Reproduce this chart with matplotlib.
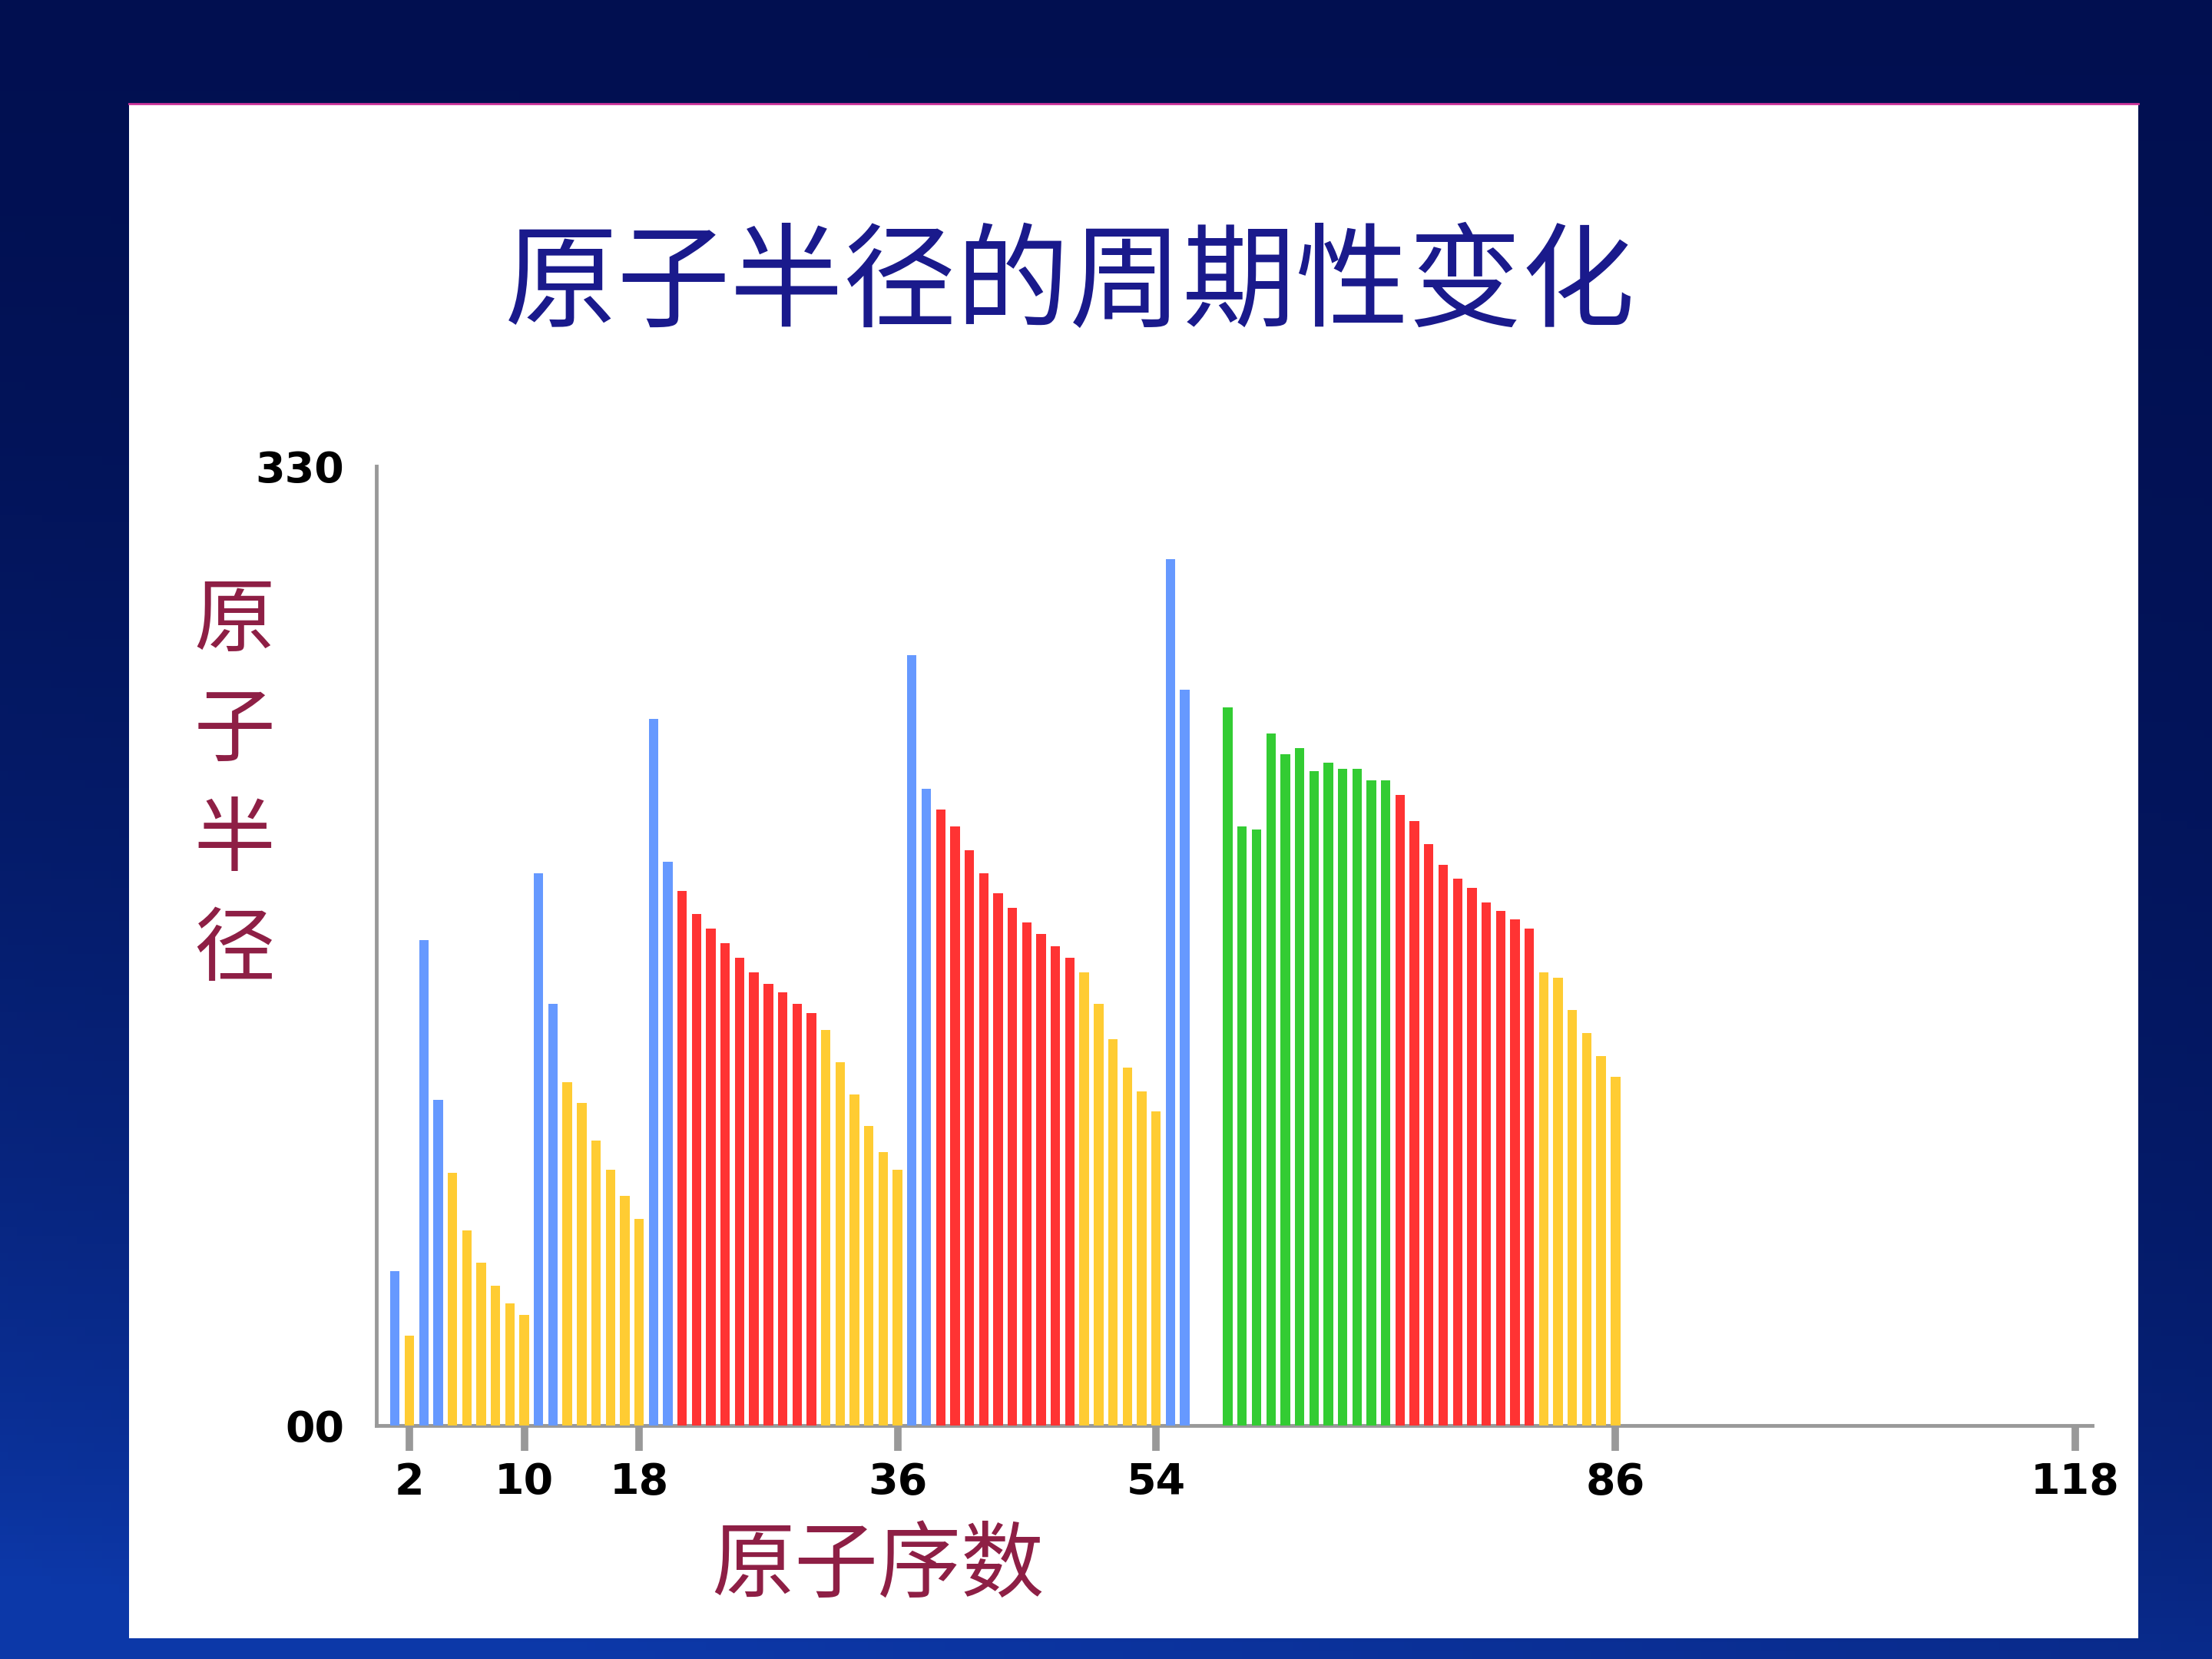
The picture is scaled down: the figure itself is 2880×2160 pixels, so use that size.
# -*- coding: utf-8 -*-
# 原子半径的周期性变化 (bar chart, atomic number 1-86, La/Ce without data)

import numpy as np
import matplotlib
matplotlib.use("Agg")
import matplotlib.pyplot as plt
from matplotlib.patches import Rectangle

plt.rcParams['font.family'] = ['Noto Sans CJK SC', 'DejaVu Sans']

# atomic numbers (57, 58 have no value in the chart)
numbers = [n for n in range(1, 87) if n not in (57, 58)]

# radii
radii = [53, 31,
         167, 112, 87, 67, 56, 48, 42, 38,
         190, 145, 118, 111, 98, 88, 79, 71,
         243, 194, 184, 176, 171, 166, 161, 156, 152, 149, 145, 142,
         136, 125, 114, 103, 94, 88,
         265, 219, 212, 206, 198, 190, 183, 178, 173, 169, 165, 161,
         156, 145, 133, 123, 115, 108,
         298, 253,
         247, 206, 205, 238, 231, 233, 225, 228, 226, 226, 222, 222,
         217, 208, 200, 193, 188, 185, 180, 177, 174, 171,
         156, 154, 143, 135, 127, 120]

# block of each bar
blocks = (['s', 'p'] +
          ['s'] * 2 + ['p'] * 6 +
          ['s'] * 2 + ['p'] * 6 +
          ['s'] * 2 + ['d'] * 10 + ['p'] * 6 +
          ['s'] * 2 + ['d'] * 10 + ['p'] * 6 +
          ['s'] * 2 + ['f'] * 12 + ['d'] * 10 + ['p'] * 6)

x_ticks = [2, 10, 18, 36, 54, 86, 118]
y_ticks = [0, 330]
y_tick_labels = ['00', '330']

title = "原子半径的周期性变化"
ylabel = "原子半径"
xlabel = "原子序数"

block_colors = {'s': '#6699ff', 'p': '#ffcc33', 'd': '#ff3333', 'f': '#33cc33'}

W, H = 2880, 2160
fig = plt.figure(figsize=(W / 100, H / 100), dpi=100)

# background
bg = fig.add_axes([0, 0, 1, 1])
bg.set_zorder(-3)
yy, xx = np.mgrid[0:1:200j, 0:1:260j]
t = np.clip(0.12 + 0.75 * yy ** 1.6 * (1 - 0.55 * xx) + 0.25 * yy ** 6, 0, 1)
dark = np.array([0.0, 0.04, 0.27])
bright = np.array([0.05, 0.22, 0.66])
img = dark[None, None, :] * (1 - t[..., None]) + bright[None, None, :] * t[..., None]
bg.imshow(img, extent=[0, 1, 0, 1], aspect='auto', origin='upper')
bg.set_xlim(0, 1)
bg.set_ylim(0, 1)
bg.axis('off')

# white panel
px0, px1, py0, py1 = 168, 2784, 135, 2133
fig.patches.append(Rectangle((px0 / W, 1 - py1 / H), (px1 - px0) / W, (py1 - py0) / H,
                             transform=fig.transFigure, facecolor='white',
                             edgecolor='none', zorder=-2))
fig.lines.append(plt.Line2D([px0 / W, px1 / W], [1 - py0 / H, 1 - py0 / H],
                            transform=fig.transFigure, color='#cc3399', lw=2, zorder=-1))

# chart
ax = fig.add_axes([490 / W, 304 / H, (2724 - 490) / W, (1553 - 304) / H])
ax.set_zorder(1)
ax.patch.set_alpha(0)
ax.bar(numbers, radii, width=0.66, color=[block_colors[b] for b in blocks], zorder=3)
ax.set_xlim(-0.3, 119.2)
ax.set_ylim(0, 330)

for s in ['top', 'right']:
    ax.spines[s].set_visible(False)
for s in ['left', 'bottom']:
    ax.spines[s].set_color('#999999')
    ax.spines[s].set_linewidth(3.5)

ax.set_xticks(x_ticks)
ax.set_xticklabels([str(v) for v in x_ticks], fontsize=40, fontweight='bold',
                   family='DejaVu Sans')
ax.tick_params(axis='x', length=24, width=7, color='#999999', pad=10)
ax.set_yticks(y_ticks)
ax.set_yticklabels(y_tick_labels, fontsize=40, fontweight='bold', family='DejaVu Sans')
ax.tick_params(axis='y', length=0, pad=30)

# texts
fig.text(1393 / W, 1 - 372 / H, title, fontsize=106, color='#1a1a8c',
         fontweight='light', ha='center', va='center', zorder=5)
for i, ch in enumerate(ylabel):
    fig.text(305 / W, 1 - (810 + 143 * i) / H, ch, fontsize=76, color='#8e1f45',
             ha='center', va='center', zorder=5)
fig.text(1143 / W, 1 - 2040 / H, xlabel, fontsize=78, color='#8e1f45',
         ha='center', va='center', zorder=5)

fig.savefig('out.png', dpi=100)
